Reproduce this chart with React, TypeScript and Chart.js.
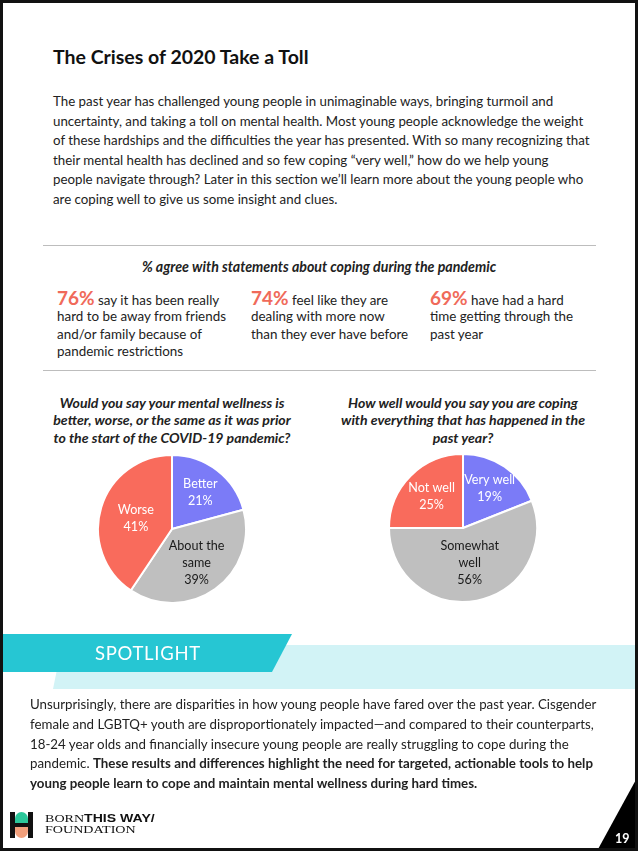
import React, { useEffect, useRef } from "react";
import { Chart, registerables } from "chart.js";

Chart.register(...registerables);

// ---- Data ----
const mentalLabels: string[][] = [["Better"], ["About the", "same"], ["Worse"]];
const mentalValues: number[] = [21, 39, 41];
const copingLabels: string[][] = [["Very well"], ["Somewhat", "well"], ["Not well"]];
const copingValues: number[] = [19, 56, 25];

const statPercents: string[] = ["76%", "74%", "69%"];
const statLines: string[][] = [
  [" say it has been really", "hard to be away from friends", "and/or family because of", "pandemic restrictions"],
  [" feel like they are", "dealing with more now", "than they ever have before"],
  [" have had a hard", "time getting through the", "past year"],
];

const introLines: string[] = [
  "The past year has challenged young people in unimaginable ways, bringing turmoil and",
  "uncertainty, and taking a toll on mental health. Most young people acknowledge the weight",
  "of these hardships and the difficulties the year has presented. With so many recognizing that",
  "their mental health has declined and so few coping \u201cvery well,\u201d how do we help young",
  "people navigate through? Later in this section we\u2019ll learn more about the young people who",
  "are coping well to give us some insight and clues.",
];

const spotlightLines: string[] = [
  "Unsurprisingly, there are disparities in how young people have fared over the past year. Cisgender",
  "female and LGBTQ+ youth are disproportionately impacted\u2014and compared to their counterparts,",
  "18-24 year olds and financially insecure young people are really struggling to cope during the",
];

const FONT = "Lato, 'Open Sans', sans-serif";
const sliceColors = ["#7B7BF7", "#BFBFBF", "#F96B5C"];
const labelColors = ["#ffffff", "#1a1a1a", "#ffffff"];

const sliceLabelPlugin = {
  id: "sliceLabels",
  afterDatasetsDraw(chart: any, _args: any, opts: any) {
    const ctx = chart.ctx;
    const meta = chart.getDatasetMeta(0);
    const data = chart.data.datasets[0].data as number[];
    const labels = chart.data.labels as string[][];
    meta.data.forEach((arc: any, i: number) => {
      const p = arc.getProps(["x", "y", "startAngle", "endAngle", "outerRadius"], true);
      const mid = (p.startAngle + p.endAngle) / 2;
      const frac = (opts.fracs && opts.fracs[i]) || 0.58;
      const r = p.outerRadius * frac;
      const cx = p.x + Math.cos(mid) * r;
      const cy = p.y + Math.sin(mid) * r;
      const lines = [...labels[i], data[i] + "%"];
      const lh = 17;
      ctx.save();
      ctx.font = `12.6px ${FONT}`;
      ctx.fillStyle = labelColors[i];
      ctx.textAlign = "center";
      ctx.textBaseline = "middle";
      const top = cy - ((lines.length - 1) * lh) / 2;
      lines.forEach((ln, k) => ctx.fillText(ln, cx, top + k * lh));
      ctx.restore();
    });
  },
};

function Pie({ labels, values, fracs, left, top }: { labels: string[][]; values: number[]; fracs: number[]; left: number; top: number }) {
  const ref = useRef<HTMLCanvasElement | null>(null);
  useEffect(() => {
    if (!ref.current) return;
    const chart = new Chart(ref.current, {
      type: "pie",
      data: {
        labels,
        datasets: [
          {
            data: values,
            backgroundColor: sliceColors,
            borderColor: "#ffffff",
            borderWidth: 2,
          },
        ],
      },
      options: {
        animation: false,
        responsive: false,
        maintainAspectRatio: false,
        events: [],
        layout: { padding: 0 },
        plugins: {
          legend: { display: false },
          tooltip: { enabled: false },
          sliceLabels: { fracs },
        } as any,
      },
      plugins: [sliceLabelPlugin],
    });
    return () => chart.destroy();
  }, []);
  return (
    <canvas
      ref={ref}
      width={150}
      height={150}
      style={{ position: "absolute", left, top, width: 150, height: 150 }}
    />
  );
}

const abs = (left: number, top: number, extra: React.CSSProperties = {}): React.CSSProperties => ({
  position: "absolute",
  left,
  top,
  whiteSpace: "nowrap",
  ...extra,
});

export default function App() {
  return (
    <div
      style={{
        position: "absolute",
        left: 0,
        top: 0,
        width: 638,
        height: 851,
        background: "#fff",
        overflow: "hidden",
        fontFamily: FONT,
        color: "#222",
      }}
    >
      {/* Title */}
      <div style={abs(53, 46, { fontSize: 19.5, lineHeight: "22px", fontWeight: 700, color: "#111" })}>The Crises of 2020 Take a Toll</div>

      {/* Intro paragraph */}
      {introLines.map((ln, i) => (
        <div key={i} style={abs(53, 91 + i * 19.6, { fontSize: 13.3, lineHeight: "20px" })}>
          {ln}
        </div>
      ))}

      {/* Rules */}
      <div style={abs(43, 245, { width: 553, height: 1, background: "#bdbdbd" })} />
      <div style={abs(43, 370, { width: 553, height: 1, background: "#bdbdbd" })} />

      {/* Subtitle */}
      <div style={abs(0, 257, { width: 638, textAlign: "center", fontSize: 14.2, lineHeight: "20px", fontWeight: 700, fontStyle: "italic" })}>
        % agree with statements about coping during the pandemic
      </div>

      {/* Stats */}
      {[57, 251, 430].map((x, c) => (
        <div key={c} style={abs(x, 287, { fontSize: 13.4, lineHeight: "18px" })}>
          {statLines[c].map((ln, k) => (
            <div key={k} style={{ height: k === 0 ? 21 : 17.5, lineHeight: k === 0 ? "21px" : "17.5px" }}>
              {k === 0 ? (
                <span style={{ color: "#F06A5A", fontWeight: 700, fontSize: 19, lineHeight: "21px" }}>{statPercents[c]}</span>
              ) : null}
              {ln}
            </div>
          ))}
        </div>
      ))}

      {/* Pie titles */}
      <div style={abs(22, 394, { width: 300, textAlign: "center", fontSize: 14.1, lineHeight: "17.3px", fontWeight: 700, fontStyle: "italic" })}>
        <div>Would you say your mental wellness is</div>
        <div>better, worse, or the same as it was prior</div>
        <div>to the start of the COVID-19 pandemic?</div>
      </div>
      <div style={abs(313, 394, { width: 300, textAlign: "center", fontSize: 14.1, lineHeight: "17.3px", fontWeight: 700, fontStyle: "italic" })}>
        <div>How well would you say you are coping</div>
        <div>with everything that has happened in the</div>
        <div>past year?</div>
      </div>

      <Pie labels={mentalLabels} values={mentalValues} fracs={[0.63, 0.57, 0.51]} left={97} top={454} />
      <Pie labels={copingLabels} values={copingValues} fracs={[0.64, 0.48, 0.6]} left={388} top={453} />

      {/* Spotlight banner */}
      <svg width={638} height={851} style={{ position: "absolute", left: 0, top: 0 }}>
        <polygon points="62,645 638,645 638,689 53,689" fill="#D2F3F6" />
        <polygon points="0,634 292,634 272,672 0,672" fill="#26C6D3" />
        <polygon points="638,776 638,851 597,851" fill="#000" />
      </svg>
      <div style={abs(95, 641, { fontSize: 18.5, lineHeight: "24px", color: "#fff", letterSpacing: 0.7, fontWeight: 400 })}>SPOTLIGHT</div>

      {/* Spotlight paragraph */}
      {spotlightLines.map((ln, i) => (
        <div key={i} style={abs(30, 694 + i * 19.8, { fontSize: 13.3, lineHeight: "20px" })}>
          {ln}
        </div>
      ))}
      <div style={abs(30, 694 + 3 * 19.8, { fontSize: 13.3, lineHeight: "20px" })}>
        pandemic. <b>These results and differences highlight the need for targeted, actionable tools to help</b>
      </div>
      <div style={abs(30, 694 + 4 * 19.8, { fontSize: 13.3, lineHeight: "20px", fontWeight: 700 })}>
        young people learn to cope and maintain mental wellness during hard times.
      </div>

      {/* Logo */}
      <div style={abs(10, 812, { width: 5, height: 26, background: "#111" })} />
      <div style={abs(28, 812, { width: 5, height: 26, background: "#111" })} />
      <div style={abs(15, 812, { width: 13, height: 11, background: "#2BC79A", borderRadius: "7px 7px 0 0" })} />
      <div style={abs(15, 823, { width: 13, height: 4, background: "#111" })} />
      <div style={abs(15, 827, { width: 13, height: 11, background: "#F2A07C", borderRadius: "0 0 7px 7px" })} />
      <div
        style={abs(45, 812, {
          fontSize: 10.5,
          lineHeight: "12px",
          height: 12,
          color: "#111",
          transform: "scaleX(1.34)",
          transformOrigin: "0 0",
          fontFamily: "'Liberation Serif', serif",
        })}
      >
        BORN<b style={{ fontFamily: "'Liberation Sans', sans-serif" }}>THIS WAY/</b>
      </div>
      <div
        style={abs(45, 824, {
          fontSize: 10.5,
          lineHeight: "12px",
          height: 12,
          color: "#111",
          transform: "scaleX(1.34)",
          transformOrigin: "0 0",
          fontFamily: "'Liberation Serif', serif",
        })}
      >
        FOUNDATION
      </div>

      {/* Page number */}
      <div style={abs(615, 831, { fontSize: 12.5, fontWeight: 700, color: "#fff" })}>19</div>

      {/* Page border */}
      <div style={{ position: "absolute", left: 0, top: 0, width: 638, height: 851, boxSizing: "border-box", border: "3px solid #111", pointerEvents: "none" }} />
    </div>
  );
}
